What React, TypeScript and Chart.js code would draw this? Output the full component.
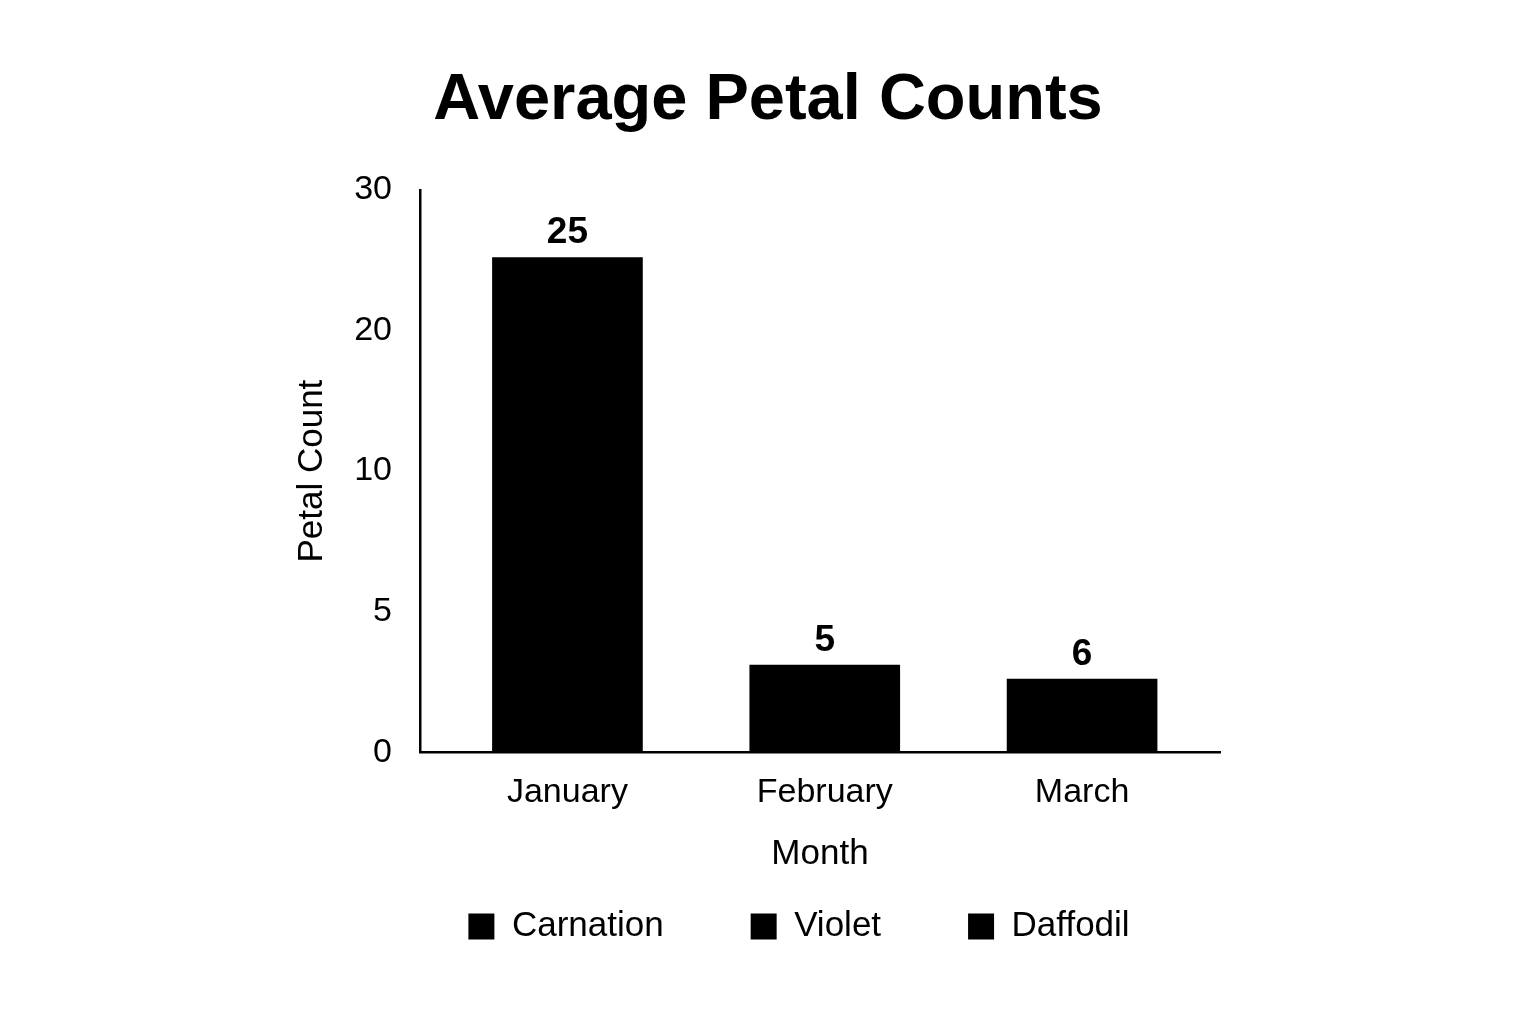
import React, { useEffect, useRef } from "react";
import { Chart, registerables } from "chart.js";

Chart.register(...registerables);

const months = ["January", "February", "March"];
const seriesNames = ["Carnation", "Violet", "Daffodil"];
// bar heights as read against the (non-uniform) y axis
const barHeights = [25.2, 3.1, 2.6];
// value labels printed above the bars
const valueLabels = ["25", "5", "6"];
const yTickLabels = [0, 5, 10, 20, 30];

const SANS = "'Liberation Sans', Arial, sans-serif";
const BOLD = "'Liberation Sans', Arial, sans-serif";

// map a value onto the evenly spaced tick positions (piecewise linear)
function toAxis(v: number): number {
  for (let i = 0; i < yTickLabels.length - 1; i++) {
    const a = yTickLabels[i];
    const b = yTickLabels[i + 1];
    if (v <= b) return i + (v - a) / (b - a);
  }
  return yTickLabels.length - 1;
}

const valueLabelPlugin = {
  id: "valueLabels",
  afterDatasetsDraw(chart: any) {
    const ctx = chart.ctx;
    ctx.save();
    ctx.font = `bold 37px ${BOLD}`;
    ctx.fillStyle = "#000";
    ctx.textAlign = "center";
    ctx.textBaseline = "alphabetic";
    chart.data.datasets.forEach((ds: any, i: number) => {
      const meta = chart.getDatasetMeta(i);
      meta.data.forEach((el: any) => {
        ctx.fillText(valueLabels[i], el.x, el.y - 14);
      });
    });
    ctx.restore();
  },
};

const legendShiftPlugin = {
  id: "legendShift",
  afterLayout(chart: any) {
    const lg = chart.legend;
    if (lg) {
      lg.left += 31;
      lg.right += 31;
      lg.top -= 53;
      lg.bottom -= 53;
    }
  },
};

export default function App() {
  const ref = useRef<HTMLCanvasElement | null>(null);
  useEffect(() => {
    if (!ref.current) return;
    const chart = new Chart(ref.current, {
      type: "bar",
      data: {
        datasets: seriesNames.map((name, i) => ({
          label: name,
          data: [{ x: i, y: toAxis(barHeights[i]) }],
          backgroundColor: "#000",
          borderWidth: 0,
          barThickness: 150,
          grouped: false,
        })),
      },
      options: {
        animation: false,
        responsive: true,
        maintainAspectRatio: false,
        layout: { padding: { top: 0, left: 0, right: 0, bottom: 9 } },
        plugins: {
          title: {
            display: true,
            text: "Average Petal Counts",
            color: "#000",
            font: { family: BOLD, size: 65, weight: "bold" },
            padding: { top: 54, bottom: 50 },
          },
          legend: {
            display: true,
            position: "bottom",
            labels: {
              color: "#000",
              boxWidth: 26,
              boxHeight: 26,
              padding: 87,
              font: { family: SANS, size: 35 },
            },
          },
          tooltip: { enabled: false },
        },
        scales: {
          x: {
            type: "linear",
            offset: false,
            min: -0.573,
            max: 2.536,
            afterBuildTicks: (axis: any) => {
              axis.ticks = months.map((_, i) => ({ value: i }));
            },
            ticks: {
              color: "#000",
              font: { family: SANS, size: 34 },
              padding: 20,
              callback: (v: any) => months[Math.round(Number(v))] ?? "",
              autoSkip: false,
              maxRotation: 0,
            },
            grid: { display: false, drawTicks: false, tickLength: 0 },
            border: { display: true, color: "#000", width: 2.5 },
            title: {
              display: true,
              text: "Month",
              color: "#000",
              font: { family: SANS, size: 35 },
              padding: { top: 0, bottom: 0 },
            },
          },
          y: {
            type: "linear",
            position: "left",
            min: 0,
            max: yTickLabels.length - 1,
            afterBuildTicks: (axis: any) => {
              axis.ticks = yTickLabels.map((_, i) => ({ value: i }));
            },
            afterFit: (scale: any) => {
              scale.width = 412;
            },
            ticks: {
              color: "#000",
              font: { family: SANS, size: 34 },
              padding: 28,
              callback: (v: any) => String(yTickLabels[Math.round(Number(v))]),
            },
            grid: { display: false, drawTicks: false, tickLength: 0 },
            border: { display: true, color: "#000", width: 2.5 },
            title: {
              display: true,
              text: "Petal Count",
              color: "#000",
              font: { family: SANS, size: 35 },
              padding: { top: 283, bottom: 0 },
            },
          },
          spacer: {
            type: "linear",
            position: "right",
            display: true,
            afterFit: (scale: any) => {
              scale.width = 308;
            },
            ticks: { display: false },
            grid: { display: false, drawTicks: false },
            border: { display: false },
          },
        },
      } as any,
      plugins: [valueLabelPlugin, legendShiftPlugin],
    });
    return () => chart.destroy();
  }, []);
  return (
    <div style={{ width: "100%", height: 1008, position: "relative", background: "#fff" }}>
      <canvas ref={ref} />
    </div>
  );
}
